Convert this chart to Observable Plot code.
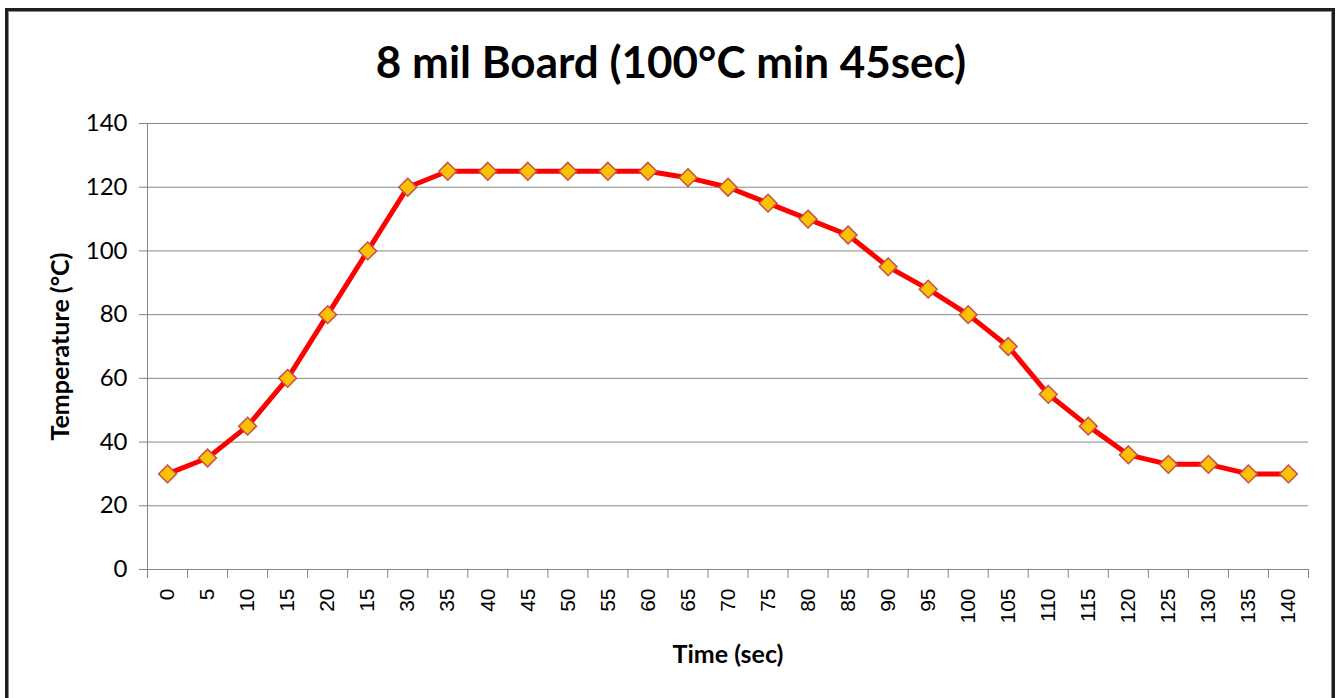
<!DOCTYPE html>
<html>
<head>
<meta charset="utf-8">
<script src="https://cdn.jsdelivr.net/npm/d3@7"></script>
<script src="https://cdn.jsdelivr.net/npm/@observablehq/plot@0.6"></script>
<style>
  html, body { margin: 0; padding: 0; background: #fff; }
  #frame {
    position: absolute; left: 5px; top: 8px; width: 1330px; height: 700px;
    border: 3px solid #1e1e1e; box-shadow: inset 1px 1px 0 #8a8a8a, inset -1px 0 0 #8a8a8a;
    box-sizing: border-box;
  }
  #title {
    position: absolute; left: 0; top: 35px; width: 1342px; text-align: center;
    font-family: Lato, "Open Sans", sans-serif; font-weight: bold; font-size: 44px; color: #000;
    line-height: 1.2;
  }
  #chart { position: absolute; left: 0; top: 0; }
</style>
</head>
<body>
<div id="frame"></div>
<div id="title">8 mil Board (100°C min 45sec)</div>
<div id="chart"></div>
<script>
const timeLabels = ["0","5","10","15","20","15","30","35","40","45","50","55","60","65","70","75","80","85","90","95","100","105","110","115","120","125","130","135","140"];
const temperatures = [30,35,45,60,80,100,120,125,125,125,125,125,125,123,120,115,110,105,95,88,80,70,55,45,36,33,33,30,30];
const yTicks = [0,20,40,60,80,100,120,140];

const data = temperatures.map((t, i) => ({i, t}));
const idx = timeLabels.map((_, i) => i);
const bounds = d3.range(timeLabels.length + 1).map(i => i - 0.5);
const grey = "#868686";

const plot = Plot.plot({
  width: 1342,
  height: 698,
  marginLeft: 147,
  marginRight: 34,
  marginTop: 123,
  marginBottom: 129,
  style: {background: "transparent", overflow: "visible"},
  x: {type: "linear", domain: [-0.5, timeLabels.length - 0.5]},
  y: {domain: [0, 140]},
  marks: [
    Plot.gridY(yTicks, {stroke: grey, strokeOpacity: 1, strokeWidth: 1}),
    Plot.axisY(yTicks, {tickSize: 8, tickPadding: 12, stroke: grey, label: null,
      fontSize: 24, fontFamily: "Lato, sans-serif", fill: "#000"}),
    Plot.ruleX([-0.5], {stroke: grey, strokeWidth: 1}),
    Plot.axisX(bounds, {tickSize: 9, tickFormat: () => "", stroke: grey, label: null}),
    Plot.ruleY([0], {stroke: grey, strokeWidth: 1}),
    Plot.axisX(idx, {tickSize: 0, tickPadding: 19, tickRotate: -90, tickFormat: i => timeLabels[i],
      fontSize: 21, fontFamily: "Liberation Sans, Arial, sans-serif", fill: "#000", label: null}),
    Plot.line(data, {x: "i", y: "t", stroke: "#ff0000", strokeWidth: 5, curve: "linear"}),
    Plot.dot(data, {x: "i", y: "t", symbol: "diamond2", r: 8, fill: "#ffc000", stroke: "#c0504d", strokeWidth: 1.5}),
    Plot.text(["Time (sec)"], {frameAnchor: "bottom", dy: 93, fontSize: 25, fontWeight: "bold",
      fontFamily: "Lato, sans-serif", fill: "#000"}),
    Plot.text(["Temperature (°C)"], {frameAnchor: "left", textAnchor: "middle", dx: -87, rotate: -90, fontSize: 25, fontWeight: "bold",
      fontFamily: "Lato, sans-serif", fill: "#000"})
  ]
});
document.getElementById("chart").appendChild(plot);
</script>
</body>
</html>
